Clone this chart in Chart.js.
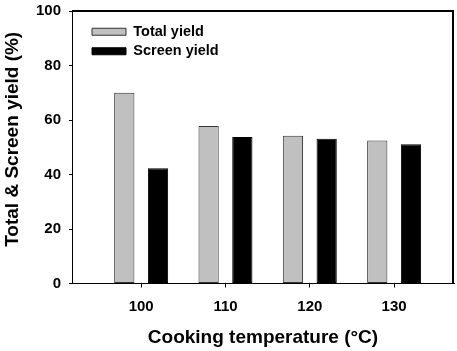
<!DOCTYPE html>
<html>
<head>
<meta charset="utf-8">
<script src="https://cdn.jsdelivr.net/npm/chart.js@4"></script>
<style>
  html, body { margin: 0; padding: 0; background: #fff; }
  #wrap { width: 457px; height: 351px; }
</style>
</head>
<body>
<div id="wrap"><canvas id="c" width="457" height="351"></canvas></div>
<script>
const categories = [100, 110, 120, 130];
const totalYield = [70.0, 57.8, 54.2, 52.5];
const screenYield = [42.3, 53.8, 53.1, 51.1];
const xTicks = [100, 110, 120, 130];
const yTicks = [0, 20, 40, 60, 80, 100];

const FONT = "'Liberation Sans', Arial, Helvetica, sans-serif";

// place the legend inside the plot box, top-left
const legendPlace = {
  id: 'legendPlace',
  afterLayout(chart) {
    const L = chart.legend, a = chart.chartArea;
    if (L) { L.left = a.left + 15; L.top = a.top + 8.5; }
  }
};

// close the plot box along its top and right edges
const frame = {
  id: 'frame',
  afterDraw(chart) {
    const a = chart.chartArea, ctx = chart.ctx;
    ctx.save();
    ctx.fillStyle = '#000';
    ctx.fillRect(Math.round(a.left), Math.round(a.top) - 1, Math.round(a.right - a.left), 2);
    ctx.fillRect(Math.round(a.right) - 2, Math.round(a.top) - 1, 2, Math.round(a.bottom - a.top) + 1);
    ctx.restore();
  }
};

new Chart(document.getElementById('c'), {
  type: 'bar',
  data: {
    labels: categories,
    datasets: [
      { label: 'Total yield', data: totalYield, backgroundColor: '#c0c0c0',
        borderColor: '#333333', borderWidth: 1, borderSkipped: false },
      { label: 'Screen yield', data: screenYield, backgroundColor: '#000000',
        borderColor: '#000000', borderWidth: 1, borderSkipped: false }
    ]
  },
  options: {
    responsive: false,
    animation: false,
    devicePixelRatio: 1,
    layout: { padding: { left: 0, right: 3, top: 11, bottom: 2 } },
    categoryPercentage: 0.8,
    barPercentage: 0.6,
    plugins: {
      tooltip: { enabled: false },
      legend: {
        position: 'chartArea',
        align: 'start',
        labels: {
          boxWidth: 34, boxHeight: 7, padding: 5,
          color: '#000',
          font: { family: FONT, size: 14.5, weight: 'bold' }
        }
      }
    },
    scales: {
      x: {
        type: 'linear',
        offset: false,
        min: 91.8, max: 137.1,
        afterBuildTicks(scale) { scale.ticks = xTicks.map(v => ({ value: v })); },
        afterFit(scale) { scale.height = 65.5; },
        grid: { drawOnChartArea: false, drawTicks: true, tickLength: 4, color: '#000', offset: false },
        border: { display: true, color: '#000', width: 1 },
        ticks: { color: '#000', padding: 10, font: { family: FONT, size: 15, weight: 'bold' },
                 callback: v => String(v) },
        title: { display: true, text: 'Cooking temperature (°C)', color: '#000',
                 font: { family: FONT, size: 19, weight: 'bold' }, padding: 0 }
      },
      y: {
        min: 0, max: 100,
        afterBuildTicks(scale) { scale.ticks = yTicks.map(v => ({ value: v })); },
        afterFit(scale) { scale.width = 72; scale.paddingTop = 0; scale.paddingBottom = 0; },
        grid: { drawOnChartArea: false, drawTicks: true, tickLength: 3, color: '#000' },
        border: { display: true, color: '#000', width: 1 },
        ticks: { color: '#000', padding: 8, font: { family: FONT, size: 15, weight: 'bold' } },
        title: { display: true, text: '   Total & Screen yield (%)', color: '#000',
                 font: { family: FONT, size: 19, weight: 'bold' }, padding: { top: 1, bottom: 0 } }
      }
    }
  },
  plugins: [legendPlace, frame]
});
</script>
</body>
</html>
